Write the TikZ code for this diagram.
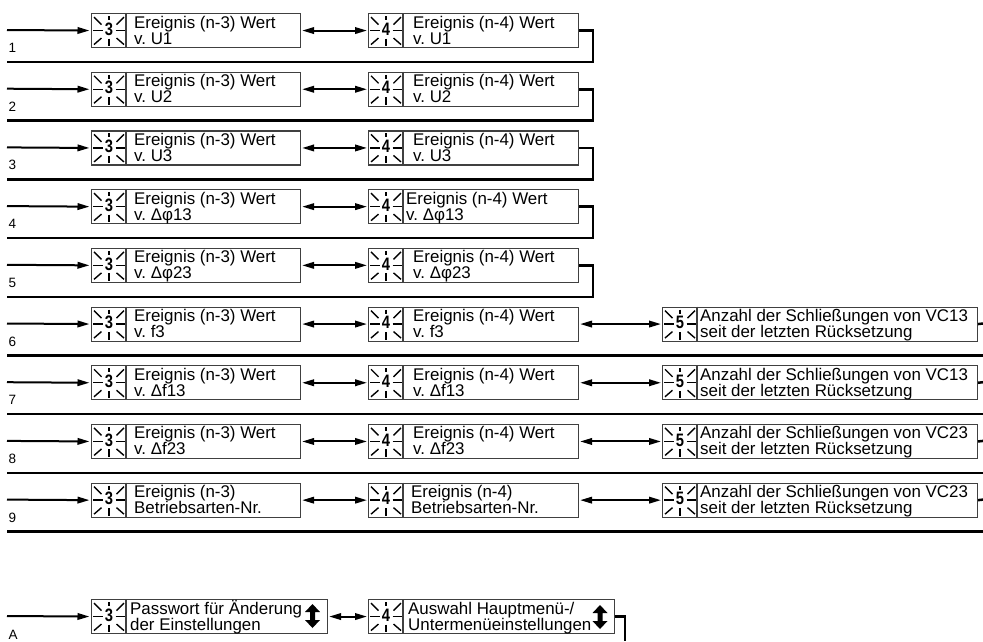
\documentclass[tikz,border=0pt]{standalone}
\usepackage{fontspec}
\usepackage{graphicx}
\setmainfont{Liberation Sans}
\usetikzlibrary{arrows.meta}
\frenchspacing
\newcommand\mytwo[2]{\vtop{\lineskiplimit=-30pt\hbox{#1}\hbox{#2}}}
\tikzset{
 frame/.style={draw=black!75, line width=1.1pt, inner sep=0pt, anchor=north west, minimum height=34pt},
 divl/.style={draw=black!75, line width=1.1pt},
 txt/.style={inner sep=0pt, anchor=base west, font=\fontsize{16.9}{16}\selectfont},
 lab/.style={inner sep=0pt, anchor=base west, font=\fontsize{13.5}{15}\selectfont},
 ray/.style={line width=1.4pt, draw=black},
 digit/.style={inner sep=0pt, font=\fontsize{18}{18}\selectfont\bfseries},
 conn/.style={line width=2pt, draw=black},
 ret/.style={line width=2.5pt, draw=black},
 arr/.style={-{Triangle[length=12pt,width=6.5pt]}, shorten >=1.5pt},
 darr/.style={{Triangle[length=12pt,width=6.5pt]}-{Triangle[length=12pt,width=6.5pt]}, shorten >=1pt, shorten <=1pt},
 blink/.pic={
  \draw[ray] (-16,0) -- (-6.5,0);
  \draw[ray] (6.5,0) -- (16,0);
  \draw[ray] (-15,-13.5) -- (-7.5,-6);
  \draw[ray] (15,-13.5) -- (7.5,-6);
  \draw[ray] (0,-14.5) -- (0,-10.5);
  \draw[ray] (-15,14) -- (-7.5,7.5);
  \draw[ray] (0,8) -- (0,15.5);
  \draw[ray] (15,14) -- (7.5,7.5);
  \node[digit] at (0,-1.5) {\scalebox{0.82}[1]{#1}};
 },
 updn/.pic={
  \fill (0,-12) -- (7.5,-4) -- (2.5,-4) -- (2.5,4) -- (7.5,4) -- (0,12) -- (-7.5,4) -- (-2.5,4) -- (-2.5,-4) -- (-7.5,-4) -- cycle;
 }
}
\begin{document}
\begin{tikzpicture}[x=1pt,y=-1pt]
\useasboundingbox (0,0) rectangle (983,641);
\foreach \i/\a/\b/\c/\d/\xt in {%
1/Ereignis (n-3) Wert/v. U1/Ereignis (n-4) Wert/v. U1/413,%
2/Ereignis (n-3) Wert/v. U2/Ereignis (n-4) Wert/v. U2/413,%
3/Ereignis (n-3) Wert/v. U3/Ereignis (n-4) Wert/v. U3/413,%
4/Ereignis (n-3) Wert/v. Δφ13/Ereignis (n-4) Wert/v. Δφ13/406,%
5/Ereignis (n-3) Wert/v. Δφ23/Ereignis (n-4) Wert/v. Δφ23/413,%
6/Ereignis (n-3) Wert/v. f3/Ereignis (n-4) Wert/v. f3/413,%
7/Ereignis (n-3) Wert/v. Δf13/Ereignis (n-4) Wert/v. Δf13/413,%
8/Ereignis (n-3) Wert/v. Δf23/Ereignis (n-4) Wert/v. Δf23/413,%
9/Ereignis (n-3)/Betriebsarten-Nr./Ereignis (n-4)/Betriebsarten-Nr./411%
}{
 \pgfmathsetmacro\sep{62+58.7*(\i-1)}
 \pgfmathsetmacro\tp{\sep-49}
 \node[frame,minimum width=209pt] (b3-\i) at (91,\tp) {};
 \node[frame,minimum width=210pt] (b4-\i) at (368,\tp) {};
 \draw[divl] ([xshift=35pt]b3-\i.north west) -- ([xshift=35pt]b3-\i.south west);
 \draw[divl] ([xshift=35pt]b4-\i.north west) -- ([xshift=35pt]b4-\i.south west);
 \pic at ([xshift=18pt]b3-\i.west) {blink=3};
 \pic at ([xshift=18pt]b4-\i.west) {blink=4};
 \node[txt] (t3-\i) at (134,\tp+15) {\mytwo{\a}{\b}};
 \node[txt] (t4-\i) at (\xt,\tp+15) {\mytwo{\c}{\d}};
 \node[lab] (l-\i) at (8.5,\sep-9.5) {\i};
 \coordinate (in-\i) at (7,\tp+17);
 \coordinate (sl-\i) at (7,\sep);
 \draw[conn,arr] (in-\i) -- (b3-\i.west);
 \draw[conn,darr] (b3-\i.east) -- (b4-\i.west);
}
\foreach \i in {1,...,5}{
 \pgfmathsetmacro\sep{62+58.7*(\i-1)}
 \coordinate (sr-\i) at (593,\sep);
 \draw[ret] (b4-\i.east) -| (sr-\i) -- (sl-\i);
}
\foreach \i/\v in {6/VC13,7/VC13,8/VC23,9/VC23}{
 \pgfmathsetmacro\sep{62+58.7*(\i-1)}
 \pgfmathsetmacro\tp{\sep-49}
 \node[frame,minimum width=315pt] (b5-\i) at (662,\tp) {};
 \draw[divl] ([xshift=35pt]b5-\i.north west) -- ([xshift=35pt]b5-\i.south west);
 \pic at ([xshift=18pt]b5-\i.west) {blink=5};
 \node[txt] (t5-\i) at (700,\tp+15) {\mytwo{Anzahl der Schließungen von \v}{seit der letzten Rücksetzung}};
 \draw[conn,darr] (b4-\i.east) -- (b5-\i.west);
 \coordinate (re-\i) at (983,\tp+17);
 \coordinate (sr-\i) at (983,\sep);
 \draw[ret] (b5-\i.east) -- (re-\i);
 \draw[ret] (sl-\i) -- (sr-\i);
}
% row A
\node[frame,minimum width=236pt] (b3-A) at (91,599) {};
\node[frame,minimum width=246pt] (b4-A) at (368,599) {};
\draw[divl] ([xshift=35pt]b3-A.north west) -- ([xshift=35pt]b3-A.south west);
\draw[divl] ([xshift=35pt]b4-A.north west) -- ([xshift=35pt]b4-A.south west);
\pic at ([xshift=18pt]b3-A.west) {blink=3};
\pic at ([xshift=18pt]b4-A.west) {blink=4};
\node[txt] (t3-A) at (130,614) {\mytwo{Passwort für Änderung}{der Einstellungen}};
\node[txt] (t4-A) at (408,614) {\mytwo{Auswahl Hauptmenü-/}{Untermenüeinstellungen}};
\pic at (312.5,616) {updn};
\pic at (600,617) {updn};
\node[lab] (l-A) at (8.5,639) {A};
\coordinate (in-A) at (7,616);
\coordinate (ra) at (625,641);
\draw[conn,arr] (in-A) -- (b3-A.west);
\draw[conn,darr] (b3-A.east) -- (b4-A.west);
\draw[ret] (b4-A.east) -| (ra);
\end{tikzpicture}
\end{document}
